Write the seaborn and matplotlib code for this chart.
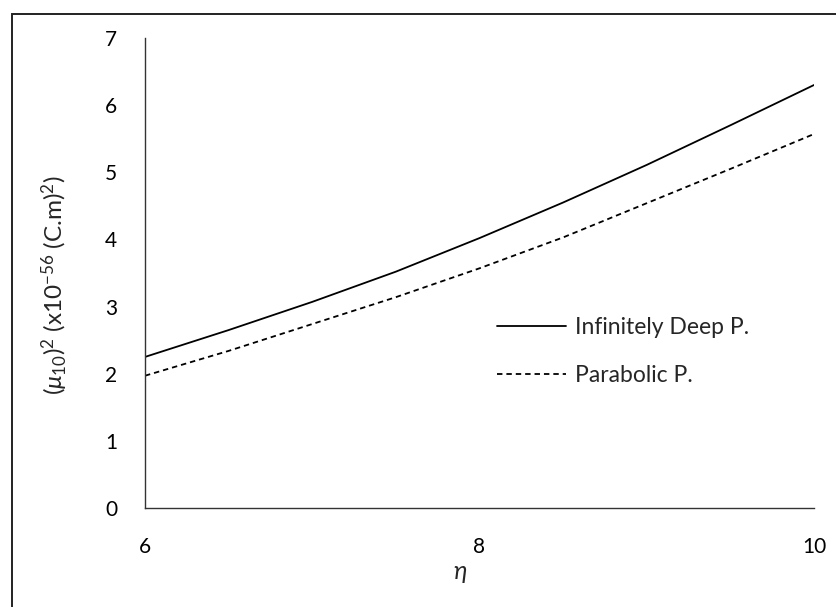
import matplotlib
matplotlib.use("Agg")
import matplotlib.pyplot as plt
import seaborn as sns
import pandas as pd
from matplotlib.patches import Rectangle

eta = [6.0, 6.5, 7.0, 7.5, 8.0, 8.5, 9.0, 9.5, 10.0]
infinitely_deep = [2.25, 2.65, 3.07, 3.52, 4.02, 4.55, 5.11, 5.70, 6.30]
parabolic = [1.97, 2.34, 2.74, 3.14, 3.57, 4.03, 4.54, 5.05, 5.57]
series_names = ["Infinitely Deep P.", "Parabolic P."]
x_ticks = [6, 8, 10]
y_ticks = [0, 1, 2, 3, 4, 5, 6, 7]

sns.set_style("white")
plt.rcParams["font.family"] = ["Lato", "DejaVu Sans"]
plt.rcParams["mathtext.fontset"] = "custom"
plt.rcParams["mathtext.rm"] = "Lato"
plt.rcParams["mathtext.it"] = "Lato:italic"

fig = plt.figure(figsize=(8.36, 6.07), dpi=100)
ax = fig.add_axes([145 / 836, 1 - 508 / 607, (814 - 145) / 836, (508 - 38) / 607])

df = pd.DataFrame({"eta": eta + eta,
                   "val": infinitely_deep + parabolic,
                   "series": [series_names[0]] * len(eta) + [series_names[1]] * len(eta)})

sns.lineplot(data=df[df.series == series_names[0]], x="eta", y="val", ax=ax,
             color="black", lw=1.3, label=series_names[0])
sns.lineplot(data=df[df.series == series_names[1]], x="eta", y="val", ax=ax,
             color="black", lw=1.3, linestyle=(0, (3, 2.2)), label=series_names[1])

ax.set_xlim(6, 10)
ax.set_ylim(0, 7)
ax.set_xticks(x_ticks)
ax.set_yticks(y_ticks)
for s in ["top", "right"]:
    ax.spines[s].set_visible(False)
for s in ["left", "bottom"]:
    ax.spines[s].set_color("#333333")
    ax.spines[s].set_linewidth(1.0)
ax.tick_params(axis="both", direction="out", length=4, width=1, color="#333333",
               labelsize=15, pad=16, labelcolor="black")
ax.tick_params(axis="x", pad=17)

ax.set_xlabel(r"$\eta$", fontsize=18)
ax.xaxis.set_label_coords((460 - 145) / 669, -0.115)
ax.set_ylabel(r"$(\mu_{10})^2$ (x10$^{-56}$ (C.m)$^2$)", fontsize=17.5)
ax.yaxis.set_label_coords(-0.112, 0.474)

leg = ax.legend(loc="upper left", bbox_to_anchor=(497 / 836, 1 - 317 / 607),
                bbox_transform=fig.transFigure, frameon=False, fontsize=16.5,
                handlelength=3.0, handletextpad=0.4, labelspacing=1.2, borderpad=0,
                borderaxespad=0)

fig.patches.append(Rectangle((12 / 836, -0.1), 1.2, 1 - 14 / 607 + 0.1,
                             transform=fig.transFigure, fill=False,
                             edgecolor="#222222", linewidth=1.4, figure=fig))

fig.savefig("out.png", dpi=100)
